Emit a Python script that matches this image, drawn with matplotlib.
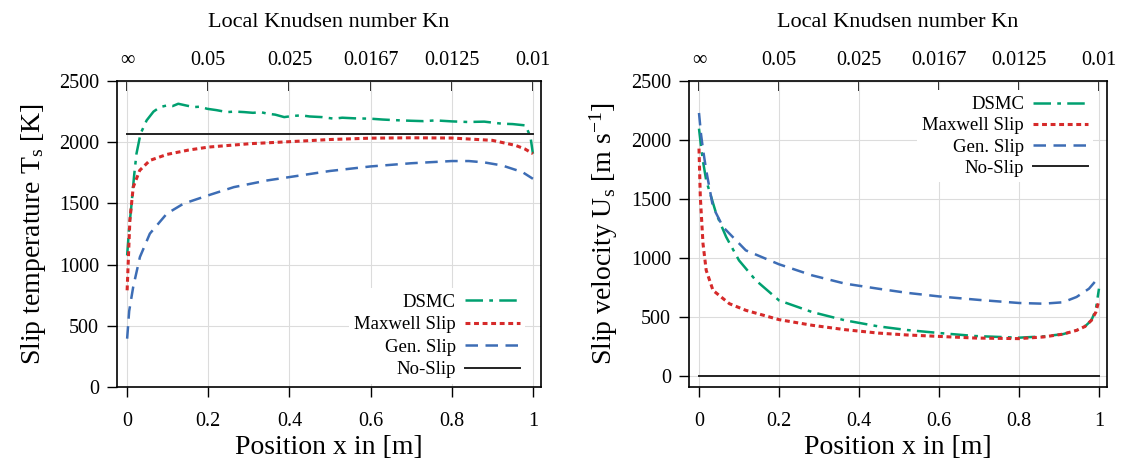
import numpy as np
import matplotlib.pyplot as plt

plt.rcParams['font.family'] = ['Liberation Serif', 'DejaVu Serif']
plt.rcParams['mathtext.fontset'] = 'custom'
plt.rcParams['mathtext.rm'] = 'Liberation Serif'
plt.rcParams['mathtext.it'] = 'Liberation Serif:italic'

# Knudsen tick labels on the top axis (Kn = 0.01 / x)
kn_pos = [0, 0.2, 0.4, 0.6, 0.8, 1.0]
kn_labels = ['\u221e', '0.05', '0.025', '0.0167', '0.0125', '0.01']

# ---- slip temperature [K]
x_dsmc_T = [0, 0.005, 0.011, 0.017, 0.023, 0.033, 0.048, 0.065, 0.081, 0.098, 0.112, 0.126, 0.145,
            0.164, 0.18, 0.197, 0.22, 0.246, 0.265, 0.288, 0.31, 0.33, 0.346, 0.365, 0.387, 0.41,
            0.43, 0.45, 0.48, 0.51, 0.53, 0.56, 0.6, 0.63, 0.66, 0.7, 0.73, 0.76, 0.8, 0.84, 0.88,
            0.924, 0.95, 0.982, 0.994, 1.0]
T_dsmc = [1075, 1300, 1500, 1720, 1906, 2069, 2178, 2250, 2287, 2300, 2295, 2314, 2300,
          2287, 2290, 2273, 2262, 2246, 2250, 2246, 2240, 2245, 2233, 2225, 2205, 2215,
          2219, 2210, 2205, 2192, 2200, 2195, 2192, 2185, 2180, 2175, 2172, 2178, 2170, 2165, 2168,
          2151, 2148, 2137, 2042, 1906]
x_max_T = [0, 0.0067, 0.015, 0.031, 0.056, 0.098, 0.15, 0.2, 0.304, 0.428, 0.5, 0.6, 0.7, 0.8,
           0.9, 0.957, 0.98, 1.0]
T_maxwell = [790, 1361, 1633, 1770, 1851, 1900, 1935, 1960, 1988, 2009, 2022, 2033, 2036, 2034,
             2015, 1974, 1945, 1906]
x_gen_T = [0, 0.005, 0.0149, 0.0315, 0.056, 0.0977, 0.139, 0.2, 0.263, 0.346, 0.428, 0.5, 0.6, 0.7,
           0.8, 0.842, 0.88, 0.924, 0.974, 1.0]
T_gen = [395, 620, 817, 1062, 1253, 1416, 1498, 1566, 1633, 1688, 1729, 1765, 1802, 1828,
         1846, 1846, 1835, 1810, 1756, 1701]
T_noslip = 2066

# ---- slip velocity [m/s]
x_dsmc_U = [0, 0.005, 0.01, 0.018, 0.043, 0.068, 0.1, 0.142, 0.2, 0.283, 0.365, 0.448, 0.52, 0.599,
            0.69, 0.8, 0.861, 0.91, 0.944, 0.965, 0.981, 0.992, 1.0]
U_dsmc = [2096, 1950, 1820, 1658, 1376, 1178, 980, 811, 641, 542, 472, 421, 390, 365,
          339, 325, 336, 355, 387, 420, 472, 560, 740]
x_max_U = [0, 0.0033, 0.01, 0.018, 0.035, 0.076, 0.117, 0.2, 0.283, 0.365, 0.448, 0.52, 0.599,
           0.69, 0.8, 0.861, 0.91, 0.944, 0.965, 0.981, 0.992, 1.0]
U_maxwell = [1927, 1517, 1122, 896, 726, 613, 557, 478, 430, 393, 364, 348, 336,
             322, 317, 331, 355, 387, 420, 472, 540, 641]
x_gen_U = [0, 0.005, 0.01, 0.018, 0.035, 0.06, 0.117, 0.2, 0.283, 0.365, 0.448, 0.52, 0.599, 0.7,
           0.8, 0.861, 0.91, 0.944, 0.975, 1.0]
U_gen = [2229, 2050, 1920, 1743, 1432, 1263, 1065, 947, 853, 783, 740, 705, 675, 645,
         619, 613, 625, 670, 740, 839]
U_noslip = 0

green = '#00a070'
red = '#d62a2a'
blue = '#3d6db5'

fig = plt.figure(figsize=(11.26, 4.66), dpi=100)
ax1 = fig.add_axes([0.1039, 0.1695, 0.3766, 0.6567])
ax2 = fig.add_axes([0.6119, 0.1695, 0.3712, 0.6567])


def style_axis(ax, ylab):
    ax.grid(True, color='#dcdcdc', linewidth=0.8)
    ax.set_axisbelow(True)
    ax.set_xticks([0, 0.2, 0.4, 0.6, 0.8, 1.0])
    ax.set_xticklabels(['0', '0.2', '0.4', '0.6', '0.8', '1'])
    ax.set_yticks([0, 500, 1000, 1500, 2000, 2500])
    ax.tick_params(direction='out', length=7, width=1, labelsize=14.5, pad=6)
    ax.tick_params(axis='x', pad=11)
    for s in ax.spines.values():
        s.set_linewidth(1.2)
    ax.set_xlabel('Position x in [m]', fontsize=20, labelpad=3)
    ax.set_ylabel(ylab, fontsize=20, labelpad=8)
    top = ax.secondary_xaxis('top')
    top.set_xticks(kn_pos)
    top.set_xticklabels(kn_labels)
    top.tick_params(direction='in', length=7, width=1.2, color='k', labelsize=14.5, pad=8)
    top.set_xlabel('Local Knudsen number Kn', fontsize=16, labelpad=17)


def draw(ax, xd, yd, xm, ym, xg, yg, yn):
    ax.plot(xd, yd, color=green, lw=1.8, dashes=(7, 2.5, 1.5, 2.5), label='DSMC')
    ax.plot(xm, ym, color=red, lw=2.2, dashes=(1.6, 1.2), label='Maxwell Slip')
    ax.plot(xg, yg, color=blue, lw=1.8, dashes=(5, 3), label='Gen. Slip')
    ax.plot([0, 1], [yn, yn], color='#222222', lw=1.4, label='No-Slip')


draw(ax1, x_dsmc_T, T_dsmc, x_max_T, T_maxwell, x_gen_T, T_gen, T_noslip)
ax1.set_xlim(-0.025, 1.02)
ax1.set_ylim(0, 2500)
style_axis(ax1, 'Slip temperature T$_\\mathrm{s}$ [K]')
ax1.legend(loc='lower right', bbox_to_anchor=(0.985, -0.02), frameon=True, framealpha=1,
           edgecolor='none', fontsize=13.5, markerfirst=False, handlelength=2.9,
           handletextpad=0.5, borderpad=0.3, labelspacing=0.28)

draw(ax2, x_dsmc_U, U_dsmc, x_max_U, U_maxwell, x_gen_U, U_gen, U_noslip)
ax2.set_xlim(-0.025, 1.02)
ax2.set_ylim(-93, 2500)
style_axis(ax2, 'Slip velocity U$_\\mathrm{s}$ [m s$^{-1}$]')
ax2.legend(loc='upper right', bbox_to_anchor=(0.99, 1.0), frameon=True, framealpha=1,
           edgecolor='none', fontsize=13.5, markerfirst=False, handlelength=2.9,
           handletextpad=0.5, borderpad=0.3, labelspacing=0.22)

fig.savefig('out.png', dpi=100)
